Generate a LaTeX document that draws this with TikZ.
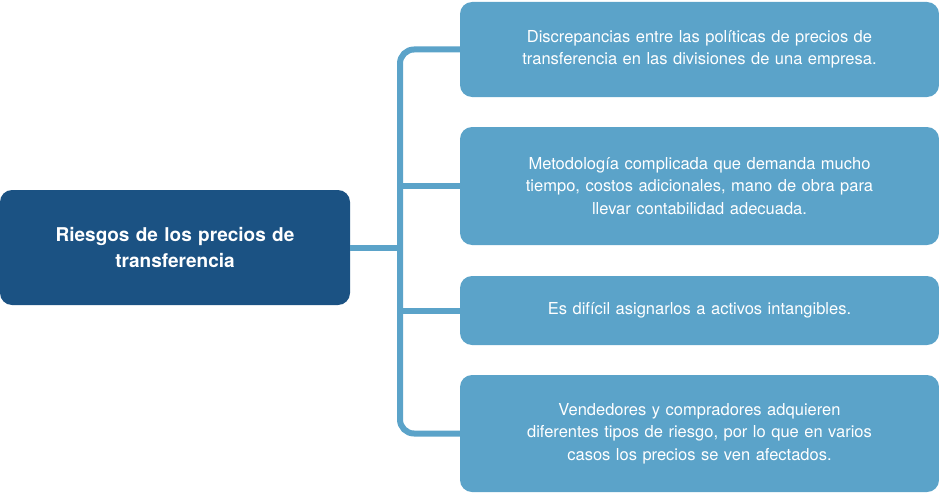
\documentclass[tikz,border=0pt]{standalone}
\usepackage{fontspec}
\setmainfont{TeX Gyre Heros}
\usetikzlibrary{positioning}
\definecolor{riskdark}{RGB}{27, 82, 131}
\definecolor{risklight}{RGB}{91, 163, 201}
\tikzstyle{mainbox}=[rectangle,rounded corners=12pt,fill=riskdark,text=white,
  font=\fontsize{19}{26}\selectfont\bfseries,align=center,
  minimum width=350pt,minimum height=115pt,text width=320pt]
\tikzstyle{itembox}=[rectangle,rounded corners=12pt,fill=risklight,text=white,
  font=\fontsize{16.5}{22.5}\selectfont,align=center,
  minimum width=479pt,text width=440pt]
\tikzstyle{link}=[draw=risklight,line width=6pt,rounded corners=14pt]
\begin{document}
\begin{tikzpicture}[x=1pt,y=-1pt]
            \useasboundingbox (0,0) rectangle (939,495);
            \node [style=mainbox] (main) at (175, 247.5) {Riesgos de los precios de\\ transferencia};
            \node [style=itembox,minimum height=95pt] (r1) at (699.5, 49.5) {Discrepancias entre las políticas de precios de\\ transferencia en las divisiones de una empresa.};
            \node [style=itembox,minimum height=118pt] (r2) at (699.5, 186) {Metodología complicada que demanda mucho\\ tiempo, costos adicionales, mano de obra para\\ llevar contabilidad adecuada.};
            \node [style=itembox,minimum height=69pt] (r3) at (699.5, 310.5) {Es difícil asignarlos a activos intangibles.};
            \node [style=itembox,minimum height=117pt] (r4) at (699.5, 433.5) {Vendedores y compradores adquieren\\ diferentes tipos de riesgo, por lo que en varios\\ casos los precios se ven afectados.};
            \coordinate (j) at (400, 247.5);
            \draw [style=link] (r1.west) -- (400, 49.5) -- (400, 433.5) -- (r4.west);
            \draw [style=link] (main.east) -- (j);
            \draw [style=link] (400, 186) -- (r2.west);
            \draw [style=link] (400, 310.5) -- (r3.west);
    \end{tikzpicture}
\end{document}
